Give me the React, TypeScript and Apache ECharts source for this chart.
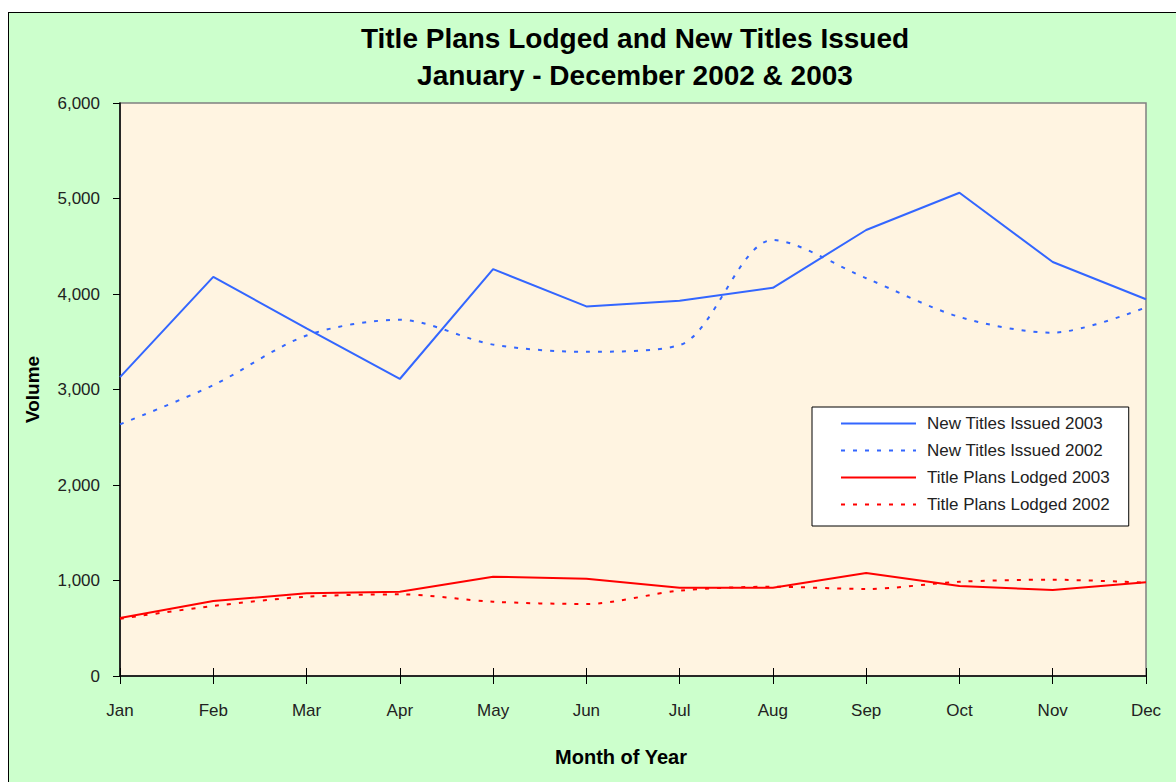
import React, { useEffect, useRef } from "react";
import * as echarts from "echarts";

const months = ["Jan", "Feb", "Mar", "Apr", "May", "Jun", "Jul", "Aug", "Sep", "Oct", "Nov", "Dec"];
const newTitles2003 = [3130, 4180, 3640, 3110, 4260, 3870, 3930, 4065, 4670, 5060, 4335, 3945];
const newTitles2002 = [2635, 3045, 3565, 3730, 3470, 3395, 3465, 4565, 4165, 3760, 3595, 3860];
const plans2003 = [607, 785, 866, 883, 1040, 1019, 925, 925, 1079, 942, 900, 981];
const plans2002 = [600, 733, 830, 855, 778, 754, 894, 935, 911, 987, 1008, 977];
const yMin = 0;
const yMax = 6000;
const yStep = 1000;

const FONT = "'Liberation Sans', Arial, sans-serif";
const BLUE = "#3366FF";
const RED = "#FF0000";

export default function App() {
  const ref = useRef<HTMLDivElement>(null);
  useEffect(() => {
    if (!ref.current) return;
    const chart = echarts.init(ref.current, undefined, { renderer: "svg" });
    chart.setOption({
      animation: false,
      backgroundColor: "transparent",
      textStyle: { fontFamily: FONT },
      title: {
        text: "Title Plans Lodged and New Titles Issued\nJanuary - December 2002 & 2003",
        left: 630,
        textAlign: "center",
        top: 15,
        textStyle: { fontFamily: FONT, fontSize: 28, fontWeight: "bold", color: "#000", lineHeight: 37 },
      },
      grid: {
        left: 120,
        right: 30,
        top: 103,
        bottom: 106,
        show: true,
        backgroundColor: "#FFF4E1",
        borderColor: "#808080",
        borderWidth: 1.5,
      },
      legend: {
        orient: "vertical",
        left: 812,
        top: 407,
        backgroundColor: "#FFFFFF",
        borderColor: "#000000",
        borderWidth: 1,
        padding: [8, 19, 13, 28],
        itemWidth: 75,
        itemHeight: 14,
        itemGap: 10,
        itemStyle: { opacity: 0 },
        textStyle: { fontFamily: FONT, fontSize: 17, lineHeight: 17, color: "#222", padding: [0, 0, 0, 6] },
        data: ["New Titles Issued 2003", "New Titles Issued 2002", "Title Plans Lodged 2003", "Title Plans Lodged 2002"],
      },
      xAxis: [
        {
          type: "category",
          data: months,
          boundaryGap: false,
          position: "bottom",
          axisLine: { show: true, lineStyle: { color: "#000", width: 1.5 } },
          axisTick: { show: true, length: 8, lineStyle: { color: "#000" } },
          axisLabel: { fontFamily: FONT, fontSize: 17, color: "#222", margin: 26 },
          splitLine: { show: false },
          name: "Month of Year",
          nameLocation: "middle",
          nameGap: 71,
          nameTextStyle: { fontFamily: FONT, fontSize: 20, fontWeight: "bold", color: "#000", padding: [0, 24, 0, 0] },
        },
        {
          type: "category",
          data: months,
          boundaryGap: false,
          position: "top",
          offset: -573,
          axisLine: { show: false },
          axisTick: { show: true, length: 8, lineStyle: { color: "#000" } },
          axisLabel: { show: false },
          splitLine: { show: false },
        },
      ],
      yAxis: {
        type: "value",
        min: yMin,
        max: yMax,
        interval: yStep,
        axisLine: { show: true, lineStyle: { color: "#000", width: 1.5 } },
        axisTick: { show: true, length: 7, lineStyle: { color: "#000" } },
        axisLabel: {
          fontFamily: FONT,
          fontSize: 17,
          color: "#222",
          margin: 20,
          formatter: (v: number) => v.toLocaleString("en-US"),
        },
        splitLine: { show: false },
        name: "Volume",
        nameLocation: "middle",
        nameGap: 78,
        nameTextStyle: { fontFamily: FONT, fontSize: 19, fontWeight: "bold", color: "#000" },
      },
      series: [
        {
          name: "New Titles Issued 2003",
          type: "line",
          data: newTitles2003,
          symbol: "none",
          lineStyle: { color: BLUE, width: 2 },
          itemStyle: { color: BLUE },
        },
        {
          name: "New Titles Issued 2002",
          type: "line",
          data: newTitles2002,
          symbol: "none",
          smooth: 0.3,
          lineStyle: { color: BLUE, width: 2, type: [4, 8] },
          itemStyle: { color: BLUE },
        },
        {
          name: "Title Plans Lodged 2003",
          type: "line",
          data: plans2003,
          symbol: "none",
          lineStyle: { color: RED, width: 2 },
          itemStyle: { color: RED },
        },
        {
          name: "Title Plans Lodged 2002",
          type: "line",
          data: plans2002,
          symbol: "none",
          smooth: 0.3,
          lineStyle: { color: RED, width: 2, type: [4, 8] },
          itemStyle: { color: RED },
        },
      ],
    });
    return () => chart.dispose();
  }, []);

  return (
    <div style={{ position: "fixed", left: 0, top: 0, width: 1176, height: 782, background: "#FFFFFF", overflow: "hidden" }}>
      <div
        style={{
          position: "absolute",
          left: 8,
          top: 12,
          width: 1200,
          height: 800,
          background: "#CCFFCC",
          border: "1px solid #000",
          boxSizing: "border-box",
        }}
      />
      <div ref={ref} style={{ position: "absolute", left: 0, top: 0, width: 1176, height: 782 }} />
    </div>
  );
}
